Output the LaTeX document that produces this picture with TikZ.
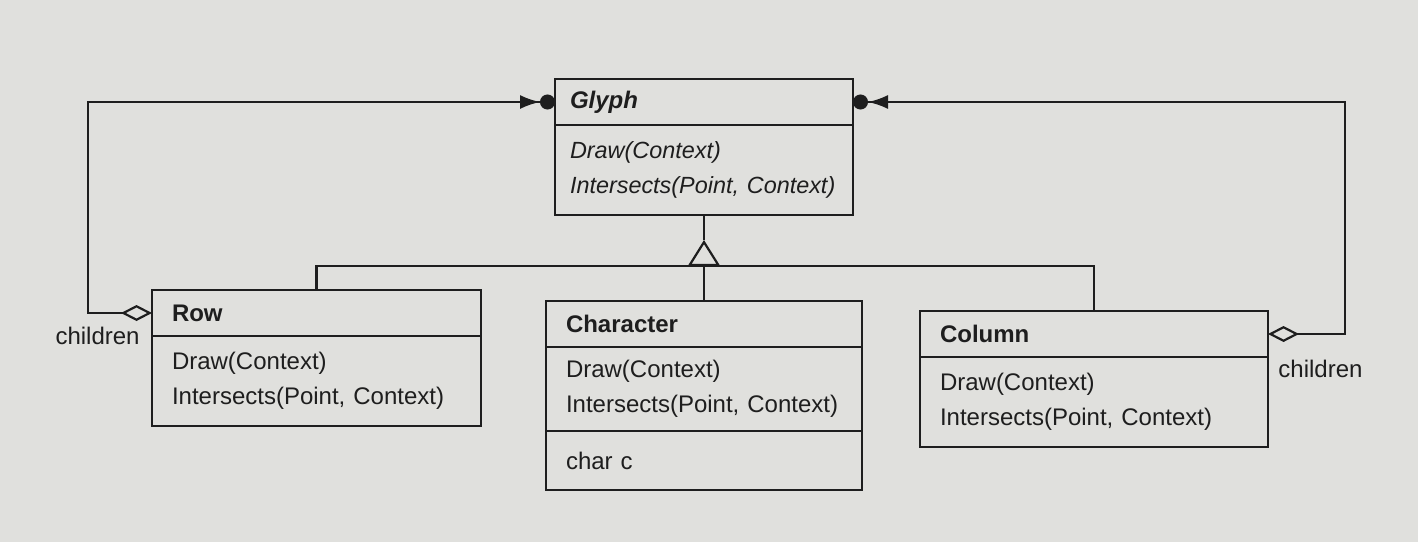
\documentclass[tikz,border=0pt]{standalone}
\usepackage{fontspec}
\setmainfont{Liberation Sans}
\usepackage{xcolor}
\usetikzlibrary{arrows.meta, positioning}
\definecolor{paper}{RGB}{224,224,221}
\definecolor{ink}{RGB}{30,30,30}

\begin{document}
\begin{tikzpicture}[
    x=0.5pt, y=-0.5pt,
    cname/.style={
        rectangle,
        draw=ink,
        line width=1.1pt,
        outer sep=0pt,
        text width=#1,
        inner xsep=10pt,
        inner ysep=0pt,
        minimum height=23pt,
        align=left,
        text=ink,
        font=\fontsize{12}{14}\selectfont\bfseries
    },
    cops/.style={
        rectangle,
        draw=ink,
        line width=1.1pt,
        outer sep=0pt,
        text width=#1,
        inner xsep=10pt,
        inner ysep=0pt,
        minimum height=45pt,
        align=left,
        text=ink,
        font=\fontsize{12}{17.5}\selectfont
    },
    link/.style={draw=ink, line width=1.1pt},
    agg/.style={link, {Diamond[open, length=15.5pt, width=8pt]}-{Latex[length=10pt, width=7pt] Circle[length=7.5pt]}},
    isa/.style={link, -{Triangle[open, length=13pt, width=16pt]}},
    lbl/.style={inner sep=0pt, text=ink, font=\fontsize{12}{14}\selectfont}
]

\fill[paper] (0,0) rectangle (1418,542);

% Glyph
\node[cname=134pt, inner xsep=7.5pt, anchor=north, font=\fontsize{12}{14}\selectfont\bfseries\itshape] (glyphN) at (704,79) {Glyph};
\node[cops=134pt, inner xsep=7.5pt, below=0pt of glyphN, font=\fontsize{11.7}{17.5}\selectfont\itshape] (glyphM) {Draw(Context)\\\mbox{Intersects(Point, Context)}};

% Row
\node[cname=144.5pt, anchor=north] (rowN) at (316.5,290) {Row};
\node[cops=144.5pt, below=0pt of rowN] (rowM) {Draw(Context)\\Intersects(Point, Context)};

% Character
\node[cname=138pt, anchor=north] (charN) at (704,301) {Character};
\node[cops=138pt, minimum height=42pt, below=0pt of charN] (charM) {Draw(Context)\\Intersects(Point, Context)};
\node[cops=138pt, minimum height=29.5pt, below=0pt of charM] (charA) {char c};

% Column
\node[cname=154pt, anchor=north] (colN) at (1094,311) {Column};
\node[cops=154pt, below=0pt of colN] (colM) {Draw(Context)\\Intersects(Point, Context)};

% subclasses
\coordinate (apex) at (704,240);
\coordinate (bar) at (704,266);
\draw[link] (glyphM.south) -- (apex);
\draw[isa] (bar) -- (apex);
\draw[link] (rowN.north) |- (bar) -| (colN.north);
\draw[link] (bar) -- (charN.north);

% children
\draw[agg] (rowN.west) -- ++(-64,0) |- (glyphN.west);
\draw[agg] (colN.east) -- ++(77,0) |- (glyphN.east);
\node[lbl, anchor=north east] (rowkids) at ([xshift=-6pt, yshift=-7pt]rowN.west) {children};
\node[lbl, anchor=north west] (colkids) at ([xshift=5pt, yshift=-13pt]colN.east) {children};

\end{tikzpicture}
\end{document}
